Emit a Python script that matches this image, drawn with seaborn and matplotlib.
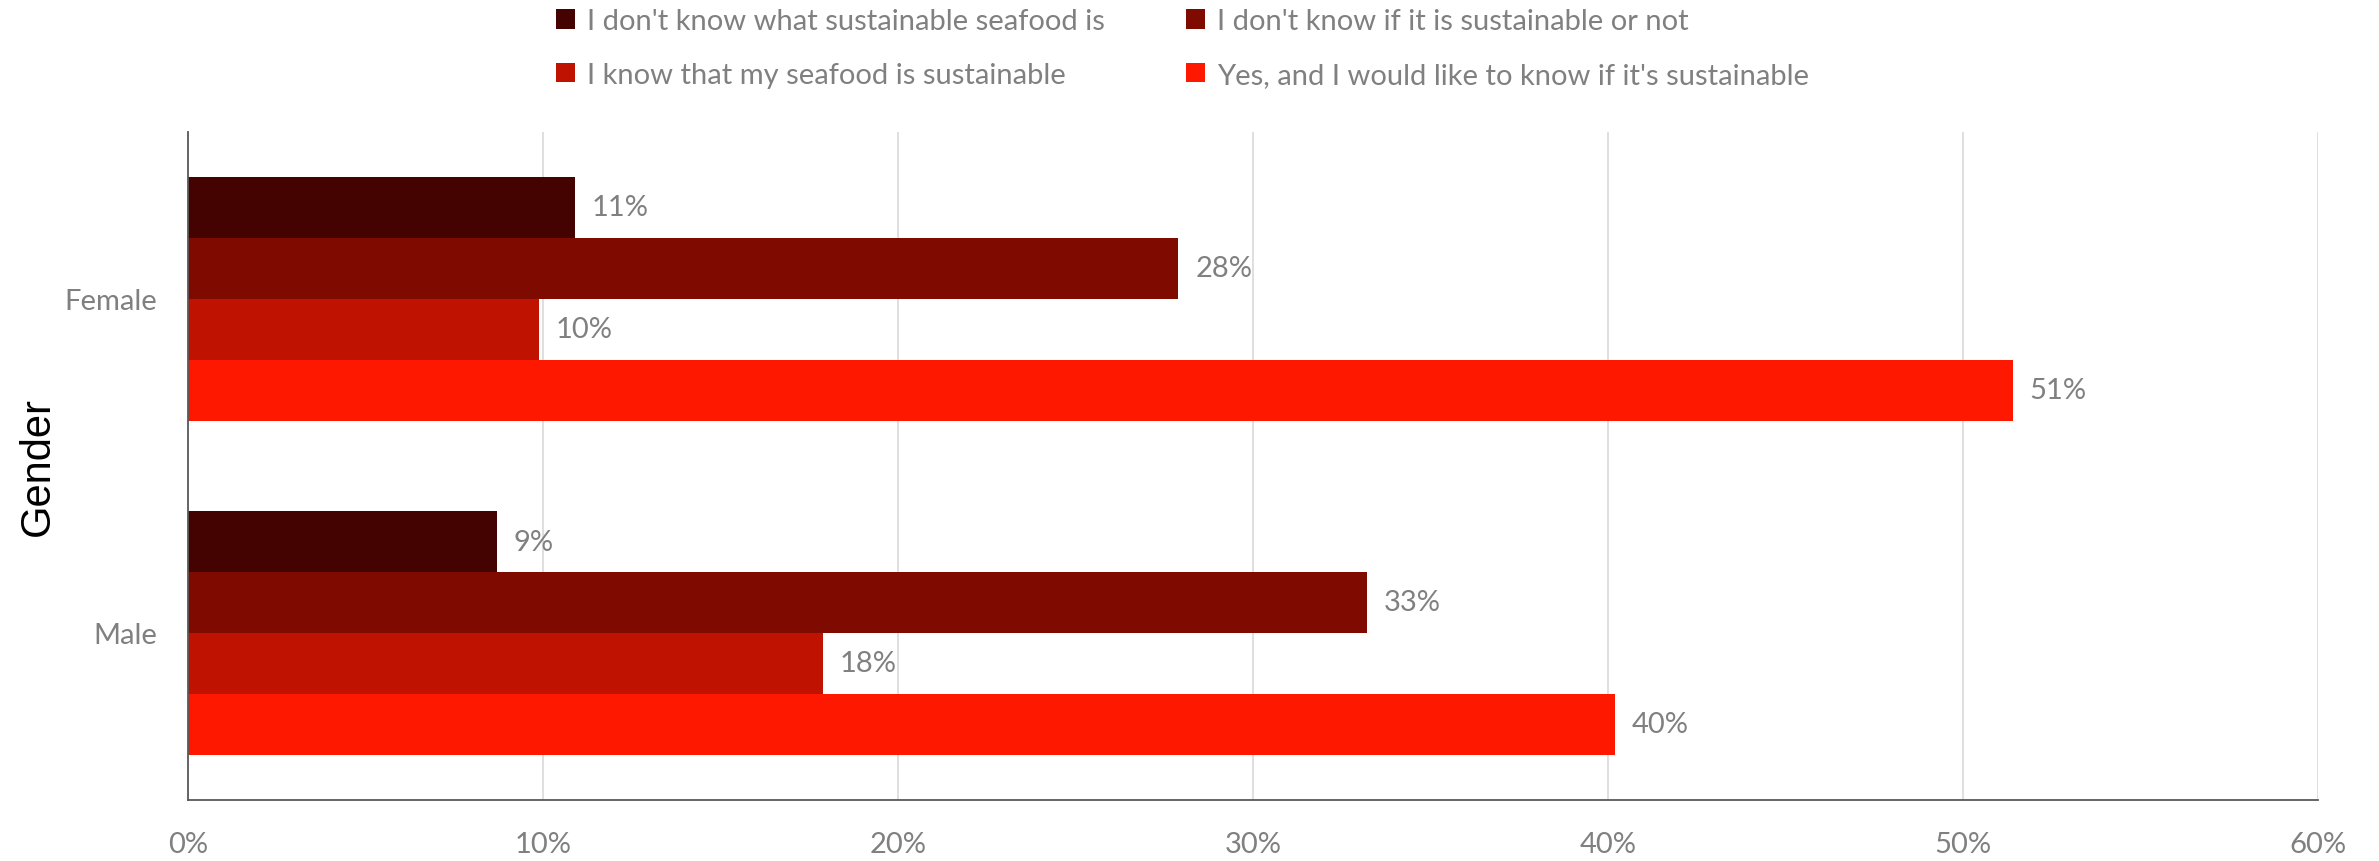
import matplotlib
matplotlib.use("Agg")
import matplotlib.pyplot as plt
from matplotlib.patches import Patch
import seaborn as sns
import pandas as pd

genders = ["Female", "Male"]
responses = [
    "I don't know what sustainable seafood is",
    "I don't know if it is sustainable or not",
    "I know that my seafood is sustainable",
    "Yes, and I would like to know if it's sustainable",
]
female_vals = [10.9, 27.9, 9.9, 51.4]
male_vals = [8.7, 33.2, 17.9, 40.2]
colors = ["#440200", "#7F0A00", "#C01200", "#FF1800"]
xticks = [0, 10, 20, 30, 40, 50, 60]

rows = []
for g, vals in zip(genders, [female_vals, male_vals]):
    for r, v in zip(responses, vals):
        rows.append({"Gender": g, "Response": r, "Value": v})
df = pd.DataFrame(rows)

sns.set_theme(style="white")
plt.rcParams["font.family"] = ["Lato", "DejaVu Sans"]
grey = "#808080"

fig = plt.figure(figsize=(23.79, 8.62), dpi=100)
ax = fig.add_axes([0.079, 0.0708, 0.8954, 0.775])

sns.barplot(data=df, y="Gender", x="Value", hue="Response", hue_order=responses,
            order=genders, palette=colors, orient="h", width=0.73, ax=ax,
            legend=False, saturation=1, edgecolor="none", linewidth=0)

for cont in ax.containers:
    ax.bar_label(cont, labels=[f"{v.get_width():.0f}%" for v in cont],
                 padding=12, color=grey, fontsize=21)

ax.set_xlim(0, 60)
ax.set_ylim(1.5, -0.5)
ax.set_xticks(xticks)
ax.set_xticklabels([f"{t}%" for t in xticks])
ax.xaxis.grid(True, color="#D9D9D9", linewidth=1.2)
ax.yaxis.grid(False)
ax.set_axisbelow(True)
for s in ["top", "right"]:
    ax.spines[s].set_visible(False)
ax.spines["left"].set_color("#595959")
ax.spines["bottom"].set_color("#595959")
ax.spines["left"].set_linewidth(1.3)
ax.spines["bottom"].set_linewidth(1.3)
ax.tick_params(axis="x", length=0, pad=22, labelsize=21, labelcolor=grey)
ax.tick_params(axis="y", length=0, pad=22, labelsize=21, labelcolor=grey)
ax.set_xlabel("")
ax.set_ylabel("Gender", fontsize=30, color="black", family=["Liberation Sans", "DejaVu Sans"])
ax.yaxis.set_label_coords(-0.061, 0.5)

handles = [Patch(facecolor=c, edgecolor="none") for c in colors]
order = [0, 2, 1, 3]
fig.legend([handles[i] for i in order], [responses[i] for i in order],
           ncol=2, loc="center", bbox_to_anchor=(0.497, 0.943), frameon=False,
           fontsize=21, labelcolor=grey, handlelength=0.65, handleheight=0.65,
           handletextpad=0.4, columnspacing=2.8, labelspacing=0.95)

fig.savefig("out.png", dpi=100)
